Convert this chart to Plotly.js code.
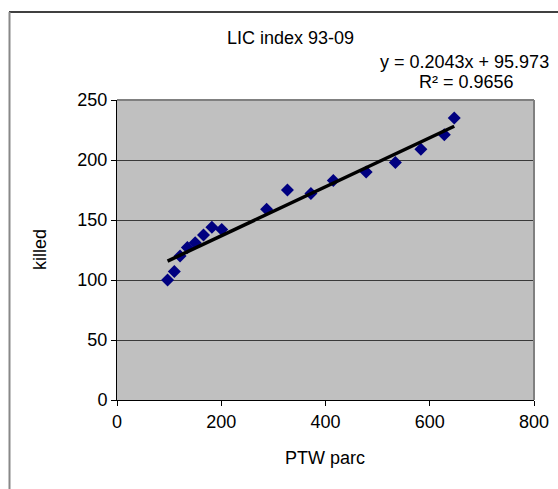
<!DOCTYPE html>
<html>
<head>
<meta charset="utf-8">
<script src="https://cdn.plot.ly/plotly-3.0.1.min.js"></script>
<style>html,body{margin:0;padding:0;background:#fff}#chart{width:558px;height:489px}</style>
</head>
<body>
<div id="chart"></div>
<script>
// PTW parc vs killed, LIC index 93-09
const ptwParc = [97, 110, 121, 135, 150, 166, 182, 201, 287, 327, 372, 415, 478, 534, 583, 628, 647];
const killed  = [100, 107, 120, 127, 131, 137.5, 144, 142, 159, 175, 172, 183, 190, 198, 209, 221, 235];
const trendSlope = 0.2043;
const trendIntercept = 95.973;
const xTicks = [0, 200, 400, 600, 800];
const yTicks = [0, 50, 100, 150, 200, 250];

const xMin = Math.min(...ptwParc), xMax = Math.max(...ptwParc);
const trendX = [xMin, xMax];
const trendY = trendX.map(v => trendSlope * v + trendIntercept);

const font = {family: 'Liberation Sans, Arial, sans-serif', size: 18, color: '#000'};

// plot area pixel geometry helpers for decorations
const L = 117, R = 24, T = 100, B = 89, W = 558, H = 489;
const pw = W - L - R, ph = H - T - B;
const px = x => (x - L) / pw;
const py = y => (H - B - y) / ph;

const data = [
  {x: ptwParc, y: killed, type: 'scatter', mode: 'markers',
   marker: {symbol: 'diamond', size: 10, color: '#000080'}, hoverinfo: 'x+y'},
  {x: trendX, y: trendY, type: 'scatter', mode: 'lines',
   line: {color: '#000', width: 3.5}, hoverinfo: 'skip'}
];

const layout = {
  width: W, height: H,
  margin: {l: L, r: R, t: T, b: B},
  paper_bgcolor: '#fff', plot_bgcolor: '#c0c0c0',
  showlegend: false,
  font: font,
  xaxis: {range: [0, 800], tickvals: xTicks, ticktext: xTicks.map(String),
    showgrid: false, zeroline: false, showline: true, linecolor: '#000', linewidth: 1,
    ticks: 'outside', ticklen: 5, tickcolor: '#000'},
  yaxis: {range: [0, 250], tickvals: yTicks, ticktext: yTicks.map(String),
    showgrid: true, gridcolor: '#3a3a3a', gridwidth: 1, zeroline: false,
    showline: true, linecolor: '#000', linewidth: 1,
    ticks: 'outside', ticklen: 5, tickcolor: '#000'},
  shapes: [
    {type: 'line', xref: 'paper', yref: 'paper', x0: 0, x1: 1, y0: 1, y1: 1, line: {color: '#808080', width: 2}, layer: 'above'},
    {type: 'line', xref: 'paper', yref: 'paper', x0: 1, x1: 1, y0: 0, y1: 1, line: {color: '#808080', width: 2}, layer: 'above'},
    {type: 'line', xref: 'paper', yref: 'paper', x0: px(9), x1: px(560), y0: py(12), y1: py(12), line: {color: '#000', width: 1.5}},
    {type: 'line', xref: 'paper', yref: 'paper', x0: px(9.5), x1: px(9.5), y0: py(12), y1: py(492), line: {color: '#888', width: 2}}
  ],
  annotations: [
    {text: 'LIC index 93-09', xref: 'paper', yref: 'paper', x: px(290), y: py(38), xanchor: 'center', yanchor: 'middle', showarrow: false, font: font},
    {text: 'y = 0.2043x + 95.973', xref: 'paper', yref: 'paper', x: px(464), y: py(62), xanchor: 'center', yanchor: 'middle', showarrow: false, font: font},
    {text: 'R² = 0.9656', xref: 'paper', yref: 'paper', x: px(466), y: py(82), xanchor: 'center', yanchor: 'middle', showarrow: false, font: font},
    {text: 'PTW parc', xref: 'paper', yref: 'paper', x: px(325), y: py(458), xanchor: 'center', yanchor: 'middle', showarrow: false, font: font},
    {text: 'killed', xref: 'paper', yref: 'paper', x: px(40), y: py(250), xanchor: 'center', yanchor: 'middle', textangle: -90, showarrow: false, font: font}
  ]
};

Plotly.newPlot('chart', data, layout, {displayModeBar: false, staticPlot: true});
</script>
</body>
</html>
